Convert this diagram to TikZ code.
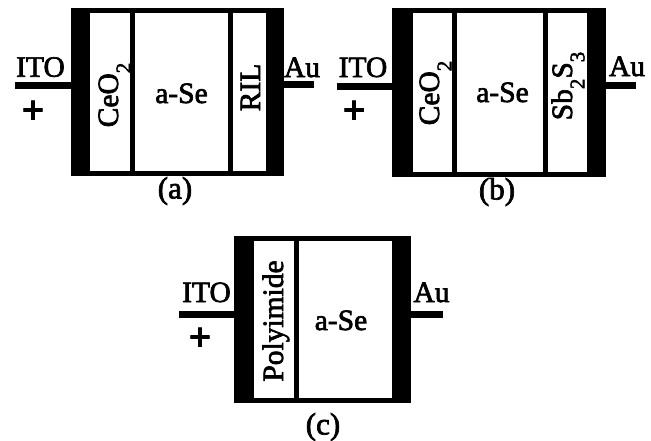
\documentclass[tikz,border=0pt]{standalone}
\usepackage{fontspec}
\setmainfont{Liberation Serif}
\newfontfamily\txtfont{Liberation Serif}[FakeBold=2.2]
\newcommand{\lsub}[1]{\raisebox{-0.42em}{\fontsize{21}{21}\selectfont #1}}
\tikzset{
  outerbox/.style={fill=black, draw=none, inner sep=0pt, anchor=north west},
  cell/.style={fill=white, draw=none, inner sep=0pt, anchor=north west},
  lead/.style={fill=black, draw=none, inner sep=0pt, anchor=north west},
  lbl/.style={font=\txtfont\fontsize{29.5}{29.5}\selectfont, inner sep=0pt, anchor=base},
  vlbl/.style={lbl, rotate=90},
  plussign/.style={font=\txtfont\bfseries\fontsize{40}{40}\selectfont, inner sep=0pt},
  figcaption/.style={font=\txtfont\fontsize{31}{31}\selectfont, inner sep=0pt},
}
\begin{document}
\begin{tikzpicture}[x=1pt,y=-1pt]
\useasboundingbox[fill=white] (0,0) rectangle (651,440);
% ---------------- (a)
\node[outerbox, minimum width=212.6pt, minimum height=168pt] (Abox) at (70.7,8) {};
\node[cell, minimum width=40pt, minimum height=158pt] (Ac1) at (90,13) {};
\node[cell, minimum width=93pt, minimum height=158pt] (Ac2) at (135,13) {};
\node[cell, minimum width=32.7pt, minimum height=158pt] (Ac3) at (233,13) {};
\node[lead, minimum width=55.7pt, minimum height=7pt] (Al) at (15,82) {};
\node[lead, minimum width=30.7pt, minimum height=7pt] (Ar) at (283.3,81) {};
\node[lbl] (Aito) at (40.5,76.7) {ITO};
\node[lbl] (Aau) at (302,77) {Au};
\node[plussign] (Aplus) at (33,112) {+};
\node[vlbl] (Aceo) at (118,95) {CeO\lsub{2}};
\node[lbl] (Ase) at (181.5,103) {a-Se};
\node[vlbl] (Aril) at (260,87.5) {RIL};
\node[figcaption] (Acap) at (175,191) {(a)};
% ---------------- (b)
\node[outerbox, minimum width=214.3pt, minimum height=169pt] (Bbox) at (391.7,8) {};
\node[cell, minimum width=39pt, minimum height=159pt] (Bc1) at (413,13) {};
\node[cell, minimum width=85.7pt, minimum height=159pt] (Bc2) at (457,13) {};
\node[cell, minimum width=39pt, minimum height=159pt] (Bc3) at (547.7,13) {};
\node[lead, minimum width=55pt, minimum height=7pt] (Bl) at (336.7,83) {};
\node[lead, minimum width=30pt, minimum height=7pt] (Br) at (606,82) {};
\node[lbl] (Bito) at (363,77) {ITO};
\node[lbl] (Bau) at (627,76) {Au};
\node[plussign] (Bplus) at (354,112) {+};
\node[vlbl] (Bceo) at (439,93) {CeO\lsub{2}};
\node[lbl] (Bse) at (502.5,102) {a-Se};
\node[vlbl] (Bsbs) at (572,86) {Sb\lsub{2}S\lsub{3}};
\node[figcaption] (Bcap) at (497,192) {(b)};
% ---------------- (c)
\node[outerbox, minimum width=176.7pt, minimum height=167pt] (Cbox) at (234,236) {};
\node[cell, minimum width=40pt, minimum height=157pt] (Cc1) at (254,241) {};
\node[cell, minimum width=92.7pt, minimum height=157pt] (Cc2) at (299,241) {};
\node[lead, minimum width=55pt, minimum height=7pt] (Cl) at (179,311) {};
\node[lead, minimum width=32pt, minimum height=7pt] (Cr) at (410.7,311) {};
\node[lbl] (Cito) at (206.5,302) {ITO};
\node[lbl] (Cau) at (431.5,302) {Au};
\node[plussign] (Cplus) at (200,339) {+};
\node[vlbl] (Cpoly) at (283,321) {Polyimide};
\node[lbl] (Cse) at (341,330) {a-Se};
\node[figcaption] (Ccap) at (323,427) {(c)};
\end{tikzpicture}
\end{document}
